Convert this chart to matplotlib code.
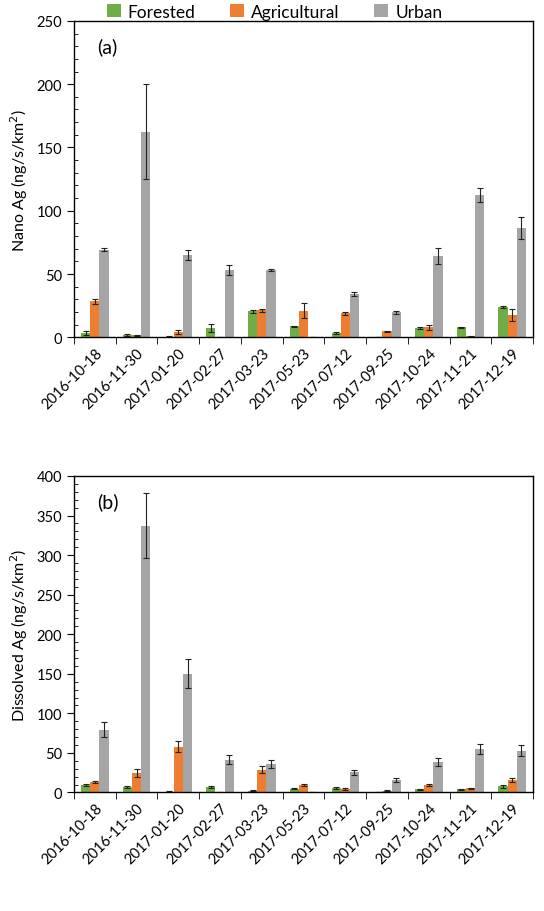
import numpy as np
import matplotlib.pyplot as plt
from matplotlib.ticker import MultipleLocator

plt.rcParams['font.family'] = ['Lato', 'DejaVu Sans']

dates = ['2016-10-18', '2016-11-30', '2017-01-20', '2017-02-27', '2017-03-23',
         '2017-05-23', '2017-07-12', '2017-09-25', '2017-10-24', '2017-11-21',
         '2017-12-19']

# (a) Nano Ag
nano_for = [3.5, 2.0, 0.6, 7.4, 20.6, 8.6, 3.5, 0.4, 7.3, 7.9, 24.0]
nano_for_err = [1.5, 1.0, 0.3, 3.5, 1.0, 0.5, 1.0, 0.2, 0.8, 0.4, 1.0]
nano_agr = [28.5, 1.5, 4.0, 0.0, 21.4, 21.0, 19.0, 4.7, 8.1, 0.8, 17.6]
nano_agr_err = [2.0, 0.3, 1.5, 0.0, 1.0, 6.0, 1.0, 0.5, 2.0, 0.3, 4.5]
nano_urb = [69.3, 162.4, 65.4, 53.5, 53.2, 0.0, 34.3, 19.7, 64.3, 112.3, 86.2]
nano_urb_err = [1.2, 37.5, 4.0, 4.0, 1.0, 0.0, 1.5, 1.5, 6.5, 5.5, 8.5]

# (b) Dissolved Ag
dis_for = [9.7, 7.2, 1.0, 6.8, 2.0, 4.7, 5.9, 0.5, 4.2, 4.2, 7.6]
dis_for_err = [1.5, 1.5, 0.3, 1.0, 0.5, 0.5, 1.0, 0.2, 0.5, 0.5, 1.5]
dis_agr = [13.1, 24.5, 57.5, 0.0, 28.8, 9.3, 4.7, 2.1, 9.3, 5.1, 15.2]
dis_agr_err = [1.5, 5.0, 7.0, 0.0, 4.0, 1.0, 1.0, 0.5, 1.5, 0.5, 2.5]
dis_urb = [79.5, 337.4, 150.1, 41.4, 36.4, 0.0, 25.4, 15.6, 38.0, 55.0, 52.9]
dis_urb_err = [10.0, 41.0, 18.6, 5.5, 5.0, 0.0, 3.0, 2.5, 5.0, 6.7, 6.7]

labels = ['Forested', 'Agricultural', 'Urban']
colors = ['#70AD47', '#ED7D31', '#A5A5A5']

fig = plt.figure(figsize=(5.44, 9.12), dpi=100)
ax1 = fig.add_axes([0.136, 0.629, 0.844, 0.347])
ax2 = fig.add_axes([0.136, 0.130, 0.844, 0.347])

x = np.arange(len(dates))
w = 0.22


def draw(ax, series, errs, ymax, ylabel, tag):
    for i, (vals, err) in enumerate(zip(series, errs)):
        ax.bar(x + (i - 1) * w, vals, w, color=colors[i], label=labels[i],
               yerr=err, capsize=2,
               error_kw=dict(ecolor='#222222', elinewidth=0.8, capthick=0.8))
    ax.set_xlim(-0.5, len(dates) - 0.5)
    ax.set_ylim(0, ymax)
    ax.yaxis.set_major_locator(MultipleLocator(50))
    ax.yaxis.set_minor_locator(MultipleLocator(10))
    ax.tick_params(axis='y', which='major', direction='out', length=5,
                   labelsize=10.5)
    ax.tick_params(axis='y', which='minor', direction='in', length=3)
    ax.set_xticks(x)
    ax.set_xticklabels(dates, rotation=45, ha='right', rotation_mode='anchor',
                       fontsize=10.5)
    ax.tick_params(axis='x', which='major', length=0, pad=6)
    ax.set_xticks(np.arange(len(dates) + 1) - 0.5, minor=True)
    ax.tick_params(axis='x', which='minor', direction='out', length=5)
    ax.set_ylabel(ylabel, fontsize=11.5, labelpad=5)
    ax.text(0.05, 0.9, tag, transform=ax.transAxes, fontsize=14)
    for s in ax.spines.values():
        s.set_color('black')
        s.set_linewidth(1)


draw(ax1, [nano_for, nano_agr, nano_urb],
     [nano_for_err, nano_agr_err, nano_urb_err], 250,
     'Nano Ag (ng/s/km$^2$)', '(a)')
draw(ax2, [dis_for, dis_agr, dis_urb],
     [dis_for_err, dis_agr_err, dis_urb_err], 400,
     'Dissolved Ag (ng/s/km$^2$)', '(b)')

handles, lbls = ax1.get_legend_handles_labels()
fig.legend(handles, lbls, loc='center', bbox_to_anchor=(0.505, 0.986),
           ncol=3, frameon=False, fontsize=12.5, handlelength=0.8,
           handleheight=0.8, columnspacing=2.0, handletextpad=0.4,
           borderpad=0)

fig.savefig('out.png', dpi=100)
